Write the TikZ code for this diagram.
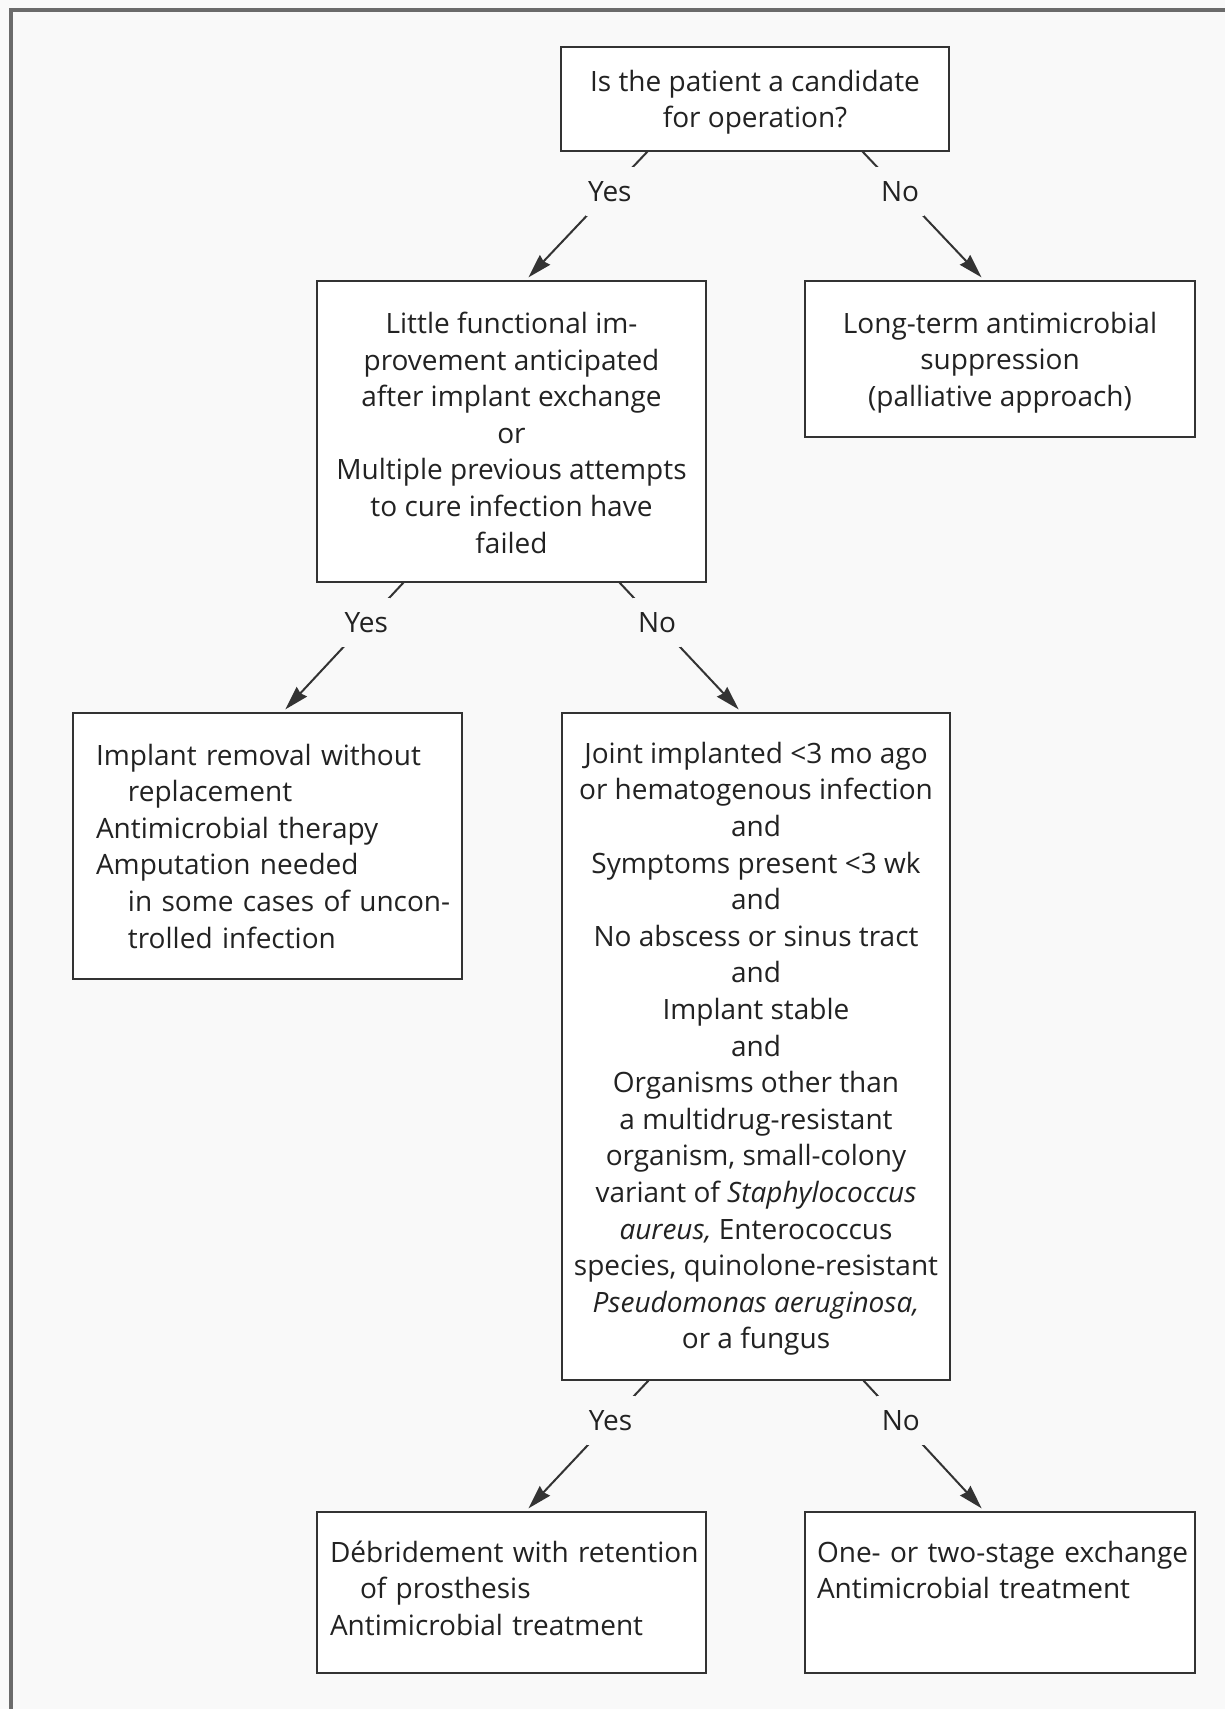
\documentclass[tikz,border=0pt]{standalone}
\usepackage{fontspec}
\setmainfont{Open Sans}
\usetikzlibrary{arrows.meta}
\definecolor{bg}{HTML}{F9F9F9}
\definecolor{framec}{HTML}{6B6B6B}
\definecolor{ink}{HTML}{222222}
\definecolor{edgec}{HTML}{333333}
\newcommand\oneline[1]{\mbox{#1}}
\newcommand\topstrut[1]{\rule{0pt}{#1}}
\newcommand\botstrut[1]{\rule[-#1]{0pt}{0pt}}
\begin{document}
\begin{tikzpicture}[x=0.5pt,y=-0.5pt,
  txtfont/.style={font=\fontsize{14}{18.3}\selectfont, text=ink},
  cbox/.style={draw=edgec, line width=1.2pt, fill=white, align=center, inner sep=0pt, outer sep=0pt, txtfont},
  lbox/.style={draw=edgec, line width=1.2pt, fill=white, align=left, inner ysep=0pt, outer sep=0pt, txtfont},
  arr/.style={draw=edgec, line width=1pt, -{Stealth[length=12pt,width=7pt,inset=1pt]}, shorten >=2.5pt},
  lab/.style={fill=bg, inner sep=0pt, minimum width=24pt, minimum height=24.5pt, txtfont}
]
\useasboundingbox (0,0) rectangle (1225,1709);
\fill[bg] (0,0) rectangle (1225,1709);
\draw[framec, line width=1.6pt] (11,1709) -- (11,10) -- (1225,10);

\node[cbox, minimum width=194pt, minimum height=52pt] (b1) at (755,99)
  {\topstrut{14pt}Is the patient a candidate\\for operation?};
\node[cbox, minimum width=194.5pt, minimum height=150.5pt] (b2) at (511.5,431.5)
  {\topstrut{12pt}Little functional im-\\provement anticipated\\after implant exchange\\or\\Multiple previous attempts\\to cure infection have\\failed};
\node[cbox, minimum width=195pt, minimum height=78pt] (b3) at (1000,359)
  {\topstrut{14pt}Long-term antimicrobial\\suppression\\(palliative approach)};
\node[lbox, text width=171.5pt, inner xsep=11.5pt, minimum height=133pt] (b4) at (267.5,846)
  {\oneline{Implant removal without}\\\oneline{\hspace*{16pt}replacement}\\\oneline{Antimicrobial therapy}\\\oneline{Amputation needed}\\\oneline{\hspace*{16pt}in some cases of uncon-}\\\oneline{\hspace*{16pt}trolled infection}};
\node[cbox, minimum width=194pt, minimum height=333.5pt] (b5) at (756,1046.5)
  {\topstrut{13pt}Joint implanted <3 mo ago\\or hematogenous infection\\and\\Symptoms present <3 wk\\and\\No abscess or sinus tract\\and\\Implant stable\\and\\Organisms other than\\a multidrug-resistant\\organism, small-colony\\variant of \textit{Staphylococcus}\\\textit{aureus,} Enterococcus\\species, quinolone-resistant\\\textit{Pseudomonas aeruginosa,}\\or a fungus};
\node[lbox, text width=181.5pt, inner xsep=6.5pt, minimum height=80.5pt] (b6) at (511.5,1592.5)
  {\oneline{D\'ebridement with retention}\\\oneline{\hspace*{15pt}of prosthesis}\\\oneline{Antimicrobial treatment}\botstrut{4.4pt}};
\node[lbox, text width=183pt, inner xsep=6pt, minimum height=80.5pt] (b7) at (1000,1592.5)
  {\oneline{One- or two-stage exchange}\\\oneline{Antimicrobial treatment}\\\mbox{}\botstrut{4.4pt}};

\draw[arr] ([xshift=43.5pt]b1.south west) -- node[lab,pos=0.31]{Yes} ([xshift=104pt]b2.north west);
\draw[arr] ([xshift=-43.5pt]b1.south east) -- node[lab,pos=0.31]{No} ([xshift=90pt]b3.north west);
\draw[arr] ([xshift=43.5pt]b2.south west) -- node[lab,pos=0.31]{Yes} ([xshift=104.5pt]b4.north west);
\draw[arr] ([xshift=-43.5pt]b2.south east) -- node[lab,pos=0.31]{No} ([xshift=90pt]b5.north west);
\draw[arr] ([xshift=43.5pt]b5.south west) -- node[lab,pos=0.31]{Yes} ([xshift=104pt]b6.north west);
\draw[arr] ([xshift=-43.5pt]b5.south east) -- node[lab,pos=0.31]{No} ([xshift=90pt]b7.north west);
\end{tikzpicture}
\end{document}
